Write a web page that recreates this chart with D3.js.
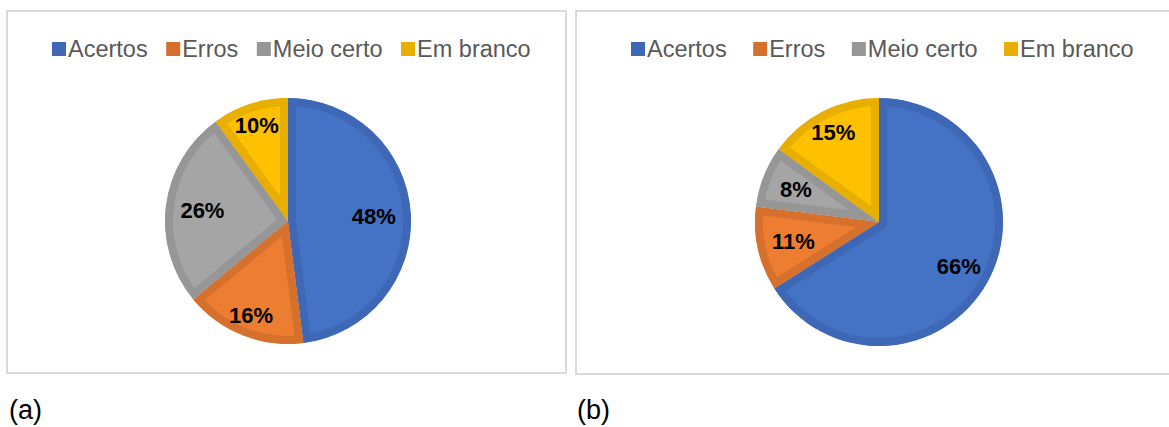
<!DOCTYPE html>
<html>
<head>
<meta charset="utf-8">
<script src="https://cdn.jsdelivr.net/npm/d3@7"></script>
<style>
  body { margin: 0; background: #fff; }
  text { font-family: "Liberation Sans", Arial, sans-serif; }
</style>
</head>
<body>
<div id="chart"></div>
<script>
// data
var categories = ["Acertos", "Erros", "Meio certo", "Em branco"];
var valuesA = [48, 16, 26, 10];
var valuesB = [66, 11, 8, 15];
var panelLabels = ["(a)", "(b)"];

// styles
var fillColors = ["#4472C4", "#ED7D31", "#A5A5A5", "#FFC000"];
var borderColors = ["#3E68B5", "#D6702D", "#969696", "#E8AE00"];

var W = 1169, H = 427;

// layout of the two chart boxes
var panels = [
    {x: 7, y: 11, w: 559, h: 362, cx: 288, cy: 221, r: 123, legendX: 52, legendGap: 18.5, values: valuesA, label: panelLabels[0], labelX: 9},
    {x: 576, y: 11, w: 600, h: 363, cx: 879, cy: 222, r: 124, legendX: 631, legendGap: 26.5, values: valuesB, label: panelLabels[1], labelX: 577}
];

var svg = d3.select("#chart").append("svg")
    .attr("width", W)
    .attr("height", H);

var defs = svg.append("defs");

var pie = d3.pie().sort(null).value(function(d) { return d; });

panels.forEach(function(p, pi) {

    // chart area frame
    svg.append("rect")
        .attr("x", p.x).attr("y", p.y)
        .attr("width", p.w).attr("height", p.h)
        .attr("fill", "#fff")
        .attr("stroke", "#d9d9d9")
        .attr("stroke-width", 2);

    // legend
    var legend = svg.append("g").attr("transform", "translate(" + p.legendX + ",49)");
    var lx = 0;
    categories.forEach(function(c, i) {
        legend.append("rect")
            .attr("x", lx).attr("y", -7)
            .attr("width", 14).attr("height", 14)
            .attr("fill", borderColors[i]);
        var t = legend.append("text")
            .attr("x", lx + 16).attr("y", 8)
            .attr("font-size", 23.5)
            .attr("fill", "#595959")
            .text(c);
        lx += 16 + t.node().getComputedTextLength() + p.legendGap;
    });

    var arc = d3.arc().innerRadius(0).outerRadius(p.r);
    var g = svg.append("g").attr("transform", "translate(" + p.cx + "," + p.cy + ")");
    var arcs = pie(p.values);

    // slices with an inner border (stroke clipped to its own slice)
    arcs.forEach(function(d, i) {
        var id = "clip-" + pi + "-" + i;
        defs.append("clipPath").attr("id", id)
            .append("path")
            .attr("d", arc(d));
        g.append("path")
            .attr("d", arc(d))
            .attr("fill", fillColors[i])
            .attr("stroke", borderColors[i])
            .attr("stroke-width", 16)
            .attr("stroke-linejoin", "miter")
            .attr("clip-path", "url(#" + id + ")");
    });

    // percentage labels, placed inside toward the rim
    arcs.forEach(function(d, i) {
        var a = (d.startAngle + d.endAngle) / 2;
        var ux = Math.sin(a), uy = -Math.cos(a);
        var dist = p.r - 20 - 17 * ux * ux;
        g.append("text")
            .attr("x", dist * ux)
            .attr("y", dist * uy)
            .attr("dy", "0.36em")
            .attr("text-anchor", "middle")
            .attr("font-size", 22)
            .attr("font-weight", "bold")
            .attr("fill", "#000")
            .text(d.data + "%");
    });

    // panel caption
    svg.append("text")
        .attr("x", p.labelX).attr("y", 419)
        .attr("font-size", 27)
        .attr("fill", "#000")
        .text(p.label);
});
</script>
</body>
</html>
